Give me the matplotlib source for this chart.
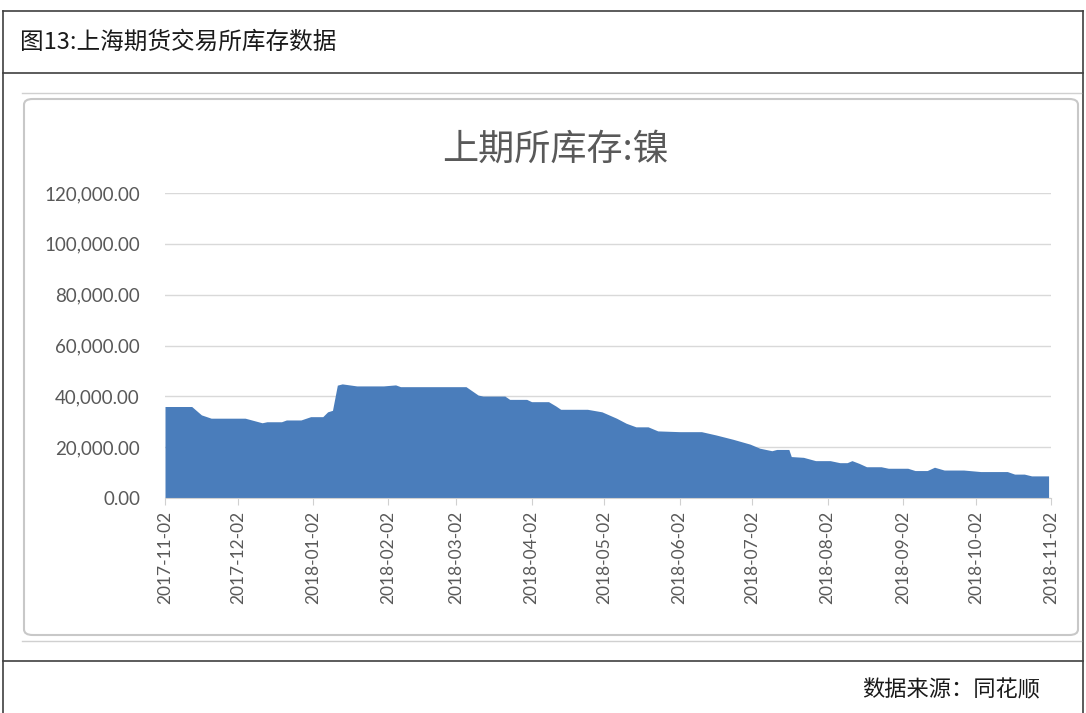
import matplotlib.pyplot as plt
import matplotlib.dates as mdates
from matplotlib.patches import FancyBboxPatch
from matplotlib.lines import Line2D
import pandas as pd

plt.rcParams['font.family'] = ['Noto Sans CJK SC', 'DejaVu Sans']

# 上期所库存:镍 (吨)
dates = ["2017-11-02", "2017-11-13", "2017-11-17", "2017-11-21", "2017-12-05",
         "2017-12-12", "2017-12-14", "2017-12-20", "2017-12-22", "2017-12-28",
         "2018-01-01", "2018-01-06", "2018-01-08", "2018-01-10", "2018-01-12",
         "2018-01-14", "2018-01-20", "2018-01-31", "2018-02-05", "2018-02-07",
         "2018-03-06", "2018-03-11", "2018-03-13", "2018-03-22", "2018-03-24",
         "2018-03-31", "2018-04-02", "2018-04-09", "2018-04-12", "2018-04-14",
         "2018-04-25", "2018-05-01", "2018-05-07", "2018-05-11", "2018-05-15",
         "2018-05-20", "2018-05-24", "2018-06-02", "2018-06-11", "2018-06-17",
         "2018-06-24", "2018-07-01", "2018-07-05", "2018-07-10", "2018-07-12",
         "2018-07-17", "2018-07-18", "2018-07-23", "2018-07-28", "2018-08-03",
         "2018-08-07", "2018-08-10", "2018-08-12", "2018-08-15", "2018-08-18",
         "2018-08-24", "2018-08-27", "2018-09-04", "2018-09-07", "2018-09-12",
         "2018-09-15", "2018-09-19", "2018-09-27", "2018-10-04", "2018-10-15",
         "2018-10-18", "2018-10-22", "2018-10-25", "2018-11-01"]
stock = [36000, 36000, 32700, 31400, 31400,
         29600, 30000, 30000, 30700, 30700,
         32000, 32000, 33900, 34500, 44400,
         44900, 44100, 44100, 44500, 43800,
         43800, 40500, 40100, 40100, 38800,
         38800, 37900, 37900, 36200, 34900,
         34900, 33900, 31400, 29400, 28000,
         28000, 26400, 26100, 26100, 24800,
         23100, 21200, 19600, 18600, 19100,
         19100, 16300, 16000, 14700, 14700,
         13900, 13900, 14700, 13600, 12300,
         12300, 11700, 11700, 10800, 10800,
         12100, 11000, 11000, 10400, 10400,
         9400, 9400, 8700, 8700]

tick_dates = ["2017-11-02", "2017-12-02", "2018-01-02", "2018-02-02", "2018-03-02",
              "2018-04-02", "2018-05-02", "2018-06-02", "2018-07-02", "2018-08-02",
              "2018-09-02", "2018-10-02", "2018-11-02"]
y_ticks = [0, 20000, 40000, 60000, 80000, 100000, 120000]

x = pd.to_datetime(dates)
xt = pd.to_datetime(tick_dates)

fig = plt.figure(figsize=(10.86, 7.13), dpi=100)
W, H = 1086, 713

def fx(px):
    return px / W

def fy(py):
    return 1 - py / H

# outer report frame
for (x0, y0, x1, y1) in [(3, 11, 1083, 11), (3, 73, 1083, 73), (3, 661, 1083, 661),
                         (3, 11, 3, 713), (1083, 11, 1083, 713)]:
    fig.add_artist(Line2D([fx(x0), fx(x1)], [fy(y0), fy(y1)], color='#404040', lw=1.2))

fig.text(fx(20), fy(42), "图13:上海期货交易所库存数据", fontsize=17, va='center', ha='left', color='#1a1a1a')
fig.text(fx(1040), fy(690), "数据来源：同花顺", fontsize=16, va='center', ha='right', color='#1a1a1a')

# excel chart object frame
fig.add_artist(FancyBboxPatch((fx(24), fy(635)), fx(1054), (635 - 99) / H,
                              boxstyle="round,pad=0,rounding_size=0.008",
                              transform=fig.transFigure, fill=False, ec='#c8c8c8', lw=1.5))
fig.add_artist(Line2D([fx(22), fx(1081)], [fy(93), fy(93)], color='#d0d0d0', lw=1))
fig.add_artist(Line2D([fx(22), fx(1081)], [fy(641), fy(641)], color='#d0d0d0', lw=1))

fig.text(fx(555), fy(150), "上期所库存:镍", fontsize=26, color='#595959', ha='center', va='center')

ax = fig.add_axes([fx(165), fy(498), fx(886), 305 / H])
ax.fill_between(x, stock, 0, color='#4a7dbb', lw=0)

ax.set_xlim(xt[0], xt[-1])
ax.set_ylim(0, 120000)
ax.set_yticks(y_ticks)
ax.set_yticklabels([f"{v:,.2f}" for v in y_ticks])
ax.set_xticks(xt)
ax.xaxis.set_major_formatter(mdates.DateFormatter('%Y-%m-%d'))

for lab in ax.get_yticklabels():
    lab.set_family(['Lato', 'DejaVu Sans'])
    lab.set_fontsize(13.5)
    lab.set_color('#595959')
for lab in ax.get_xticklabels():
    lab.set_family(['Lato', 'DejaVu Sans'])
    lab.set_fontsize(12.5)
    lab.set_color('#595959')
    lab.set_rotation(90)

ax.tick_params(axis='y', length=0, pad=18)
ax.tick_params(axis='x', length=5, color='#d0d0d0', pad=4)
ax.grid(axis='y', color='#d9d9d9', lw=1)
ax.set_axisbelow(True)
for s in ['top', 'right', 'left']:
    ax.spines[s].set_visible(False)
ax.spines['bottom'].set_color('#d0d0d0')

fig.savefig("out.png", dpi=100)
